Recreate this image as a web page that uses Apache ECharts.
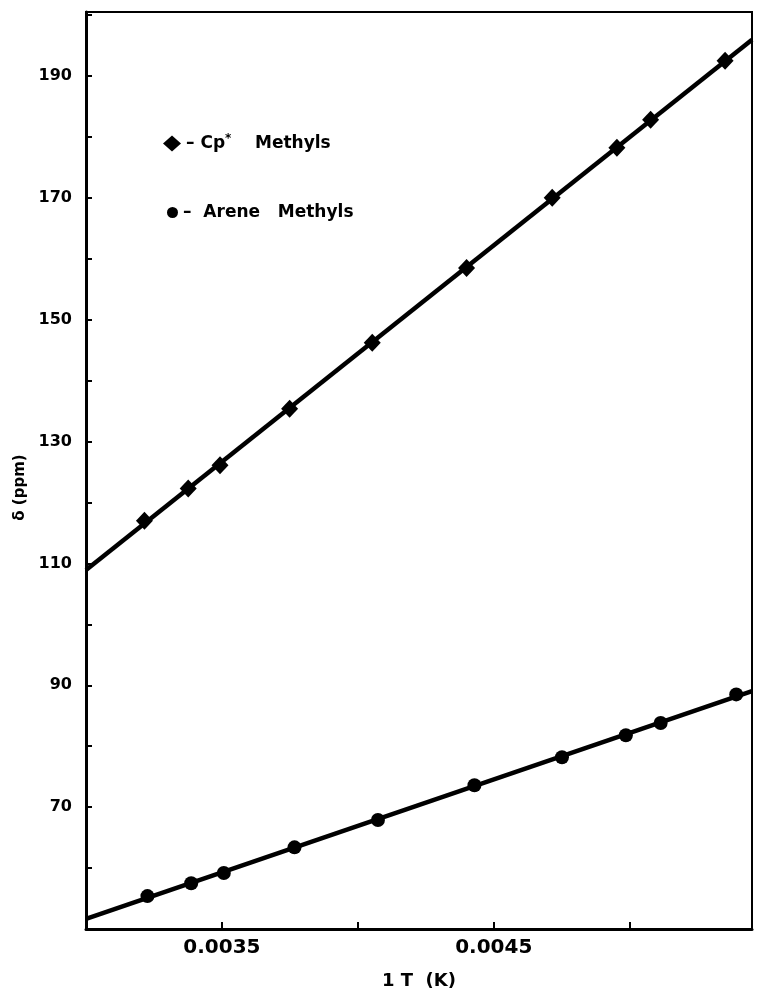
<!DOCTYPE html>
<html>
<head>
<meta charset="utf-8">
<script src="https://cdn.jsdelivr.net/npm/echarts@6/dist/echarts.min.js"></script>
<style>
  html, body { margin: 0; padding: 0; background: #fff; }
  #main { width: 761px; height: 995px; }
</style>
</head>
<body>
<div id="main"></div>
<script>
// values
var cpInvT = [0.003215, 0.003376, 0.003493, 0.003749, 0.004053, 0.0044, 0.004715, 0.004953, 0.005077, 0.005351];
var cpShift = [117.0, 122.3, 126.1, 135.4, 146.2, 158.5, 170.0, 178.2, 182.8, 192.5];
var areneInvT = [0.003226, 0.003387, 0.003507, 0.003767, 0.004074, 0.004429, 0.004751, 0.004986, 0.005114, 0.005392];
var areneShift = [55.4, 57.5, 59.2, 63.4, 67.9, 73.6, 78.2, 81.8, 83.8, 88.5];
var yTickLabels = [70, 90, 110, 130, 150, 170, 190];
var xTickLabels = [0.0035, 0.0045];

var X_MIN = 0.003, X_MAX = 0.00545;

function pairs(xs, ys) {
    return xs.map(function (x, i) { return [x, ys[i]]; });
}

// least squares straight line through the points
function fitLine(xs, ys) {
    var n = xs.length, sx = 0, sy = 0, sxx = 0, sxy = 0;
    for (var i = 0; i < n; i++) {
        sx += xs[i]; sy += ys[i];
        sxx += xs[i] * xs[i]; sxy += xs[i] * ys[i];
    }
    var b = (n * sxy - sx * sy) / (n * sxx - sx * sx);
    var a = (sy - b * sx) / n;
    return [[X_MIN, a + b * X_MIN], [X_MAX, a + b * X_MAX]];
}

var myChart = echarts.init(document.getElementById('main'));

var font = 'DejaVu Sans';
var legendText = {
    fontFamily: font, fontWeight: 'bold', fontSize: 17, color: '#000',
    rich: {
        s: { fontFamily: font, fontWeight: 'bold', fontSize: 12, verticalAlign: 'top', padding: [0, 0, 9, 0] }
    }
};

var option = {
    backgroundColor: '#fff',
    animation: false,
    grid: {
        left: 86, right: 9, top: 12, bottom: 66,
        show: true, borderColor: '#000', borderWidth: 2
    },
    legend: [
        {
            data: ['Cp* Methyls'],
            left: 158, top: 128,
            itemWidth: 18, itemHeight: 16,
            formatter: function () { return '– Cp{s|*}    Methyls'; },
            textStyle: legendText
        },
        {
            data: ['Arene Methyls'],
            left: 162, top: 199,
            itemWidth: 11, itemHeight: 11,
            formatter: function () { return '–  Arene   Methyls'; },
            textStyle: legendText
        }
    ],
    xAxis: {
        type: 'value',
        min: X_MIN, max: X_MAX, interval: 0.0005,
        name: '1 T  (K)',
        nameLocation: 'middle',
        nameGap: 43,
        nameTextStyle: { fontFamily: font, fontWeight: 'bold', fontSize: 18, color: '#000' },
        axisLine: { lineStyle: { color: '#000', width: 3 } },
        axisTick: { inside: true, length: 7, lineStyle: { color: '#000', width: 2 } },
        splitLine: { show: false },
        axisLabel: {
            margin: 9,
            fontFamily: font, fontWeight: 'bold', fontSize: 20, color: '#000',
            formatter: function (v) {
                for (var i = 0; i < xTickLabels.length; i++) {
                    if (Math.abs(v - xTickLabels[i]) < 1e-9) return xTickLabels[i].toFixed(4);
                }
                return '';
            }
        }
    },
    yAxis: {
        type: 'value',
        min: 50, max: 200.5, interval: 10,
        name: 'δ (ppm)',
        nameLocation: 'middle',
        nameGap: 56,
        nameTextStyle: { fontFamily: font, fontWeight: 'bold', fontSize: 15, color: '#000', padding: [0, 34, 0, 0] },
        axisLine: { lineStyle: { color: '#000', width: 3 } },
        axisTick: { inside: true, length: 6, lineStyle: { color: '#000', width: 2 } },
        splitLine: { show: false },
        axisLabel: {
            margin: 14,
            fontFamily: font, fontWeight: 'bold', fontSize: 16, color: '#000',
            formatter: function (v) {
                return yTickLabels.indexOf(Math.round(v)) >= 0 ? String(Math.round(v)) : '';
            }
        }
    },
    series: [
        {
            name: 'Cp* fit', type: 'line', data: fitLine(cpInvT, cpShift),
            symbol: 'none', lineStyle: { color: '#000', width: 4.5 }, z: 2
        },
        {
            name: 'Arene fit', type: 'line', data: fitLine(areneInvT, areneShift),
            symbol: 'none', lineStyle: { color: '#000', width: 4.5 }, z: 2
        },
        {
            name: 'Cp* Methyls', type: 'scatter', data: pairs(cpInvT, cpShift),
            symbol: 'diamond', symbolSize: [17, 18], itemStyle: { color: '#000', opacity: 1 }, z: 3
        },
        {
            name: 'Arene Methyls', type: 'scatter', data: pairs(areneInvT, areneShift),
            symbol: 'circle', symbolSize: 14, itemStyle: { color: '#000', opacity: 1 }, z: 3
        }
    ]
};
myChart.setOption(option);
</script>
</body>
</html>
